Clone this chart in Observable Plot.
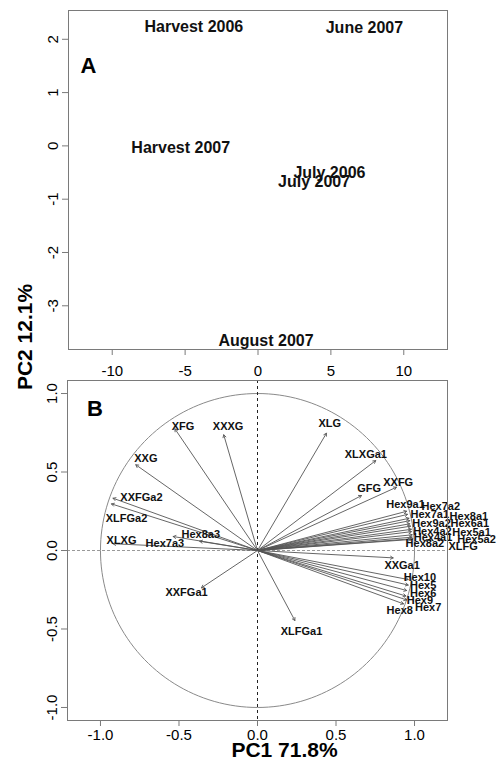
<!DOCTYPE html>
<html>
<head>
<meta charset="utf-8">
<script src="https://cdn.jsdelivr.net/npm/d3@7"></script>
<script src="https://cdn.jsdelivr.net/npm/@observablehq/plot@0.6"></script>
<style>
  html, body { margin: 0; padding: 0; background: #fff; }
  #chart { position: relative; width: 497px; height: 762px; font-family: "Liberation Sans", Arial, Helvetica, sans-serif; }
  #chart > svg { position: absolute; left: 0; }
</style>
</head>
<body>
<div id="chart"></div>
<script>
// Panel A: sample scores on the first two principal components
const sampleNames = ["Harvest 2006", "June 2007", "Harvest 2007", "July 2006", "July 2007", "August 2007"];
const samplePC1 = [-4.4, 7.3, -5.3, 4.9, 3.85, 0.55];
const samplePC2 = [2.24, 2.22, -0.03, -0.5, -0.67, -3.65];

// Panel B: variable loadings (arrow tips) and where each name is written
const variableNames = [
  "XFG", "XXXG", "XLG", "XLXGa1", "XXFG", "GFG", "XXG", "XXFGa2", "XLFGa2", "XLXG", "Hex8a3", "Hex7a3",
  "XXFGa1", "XLFGa1", "XXGa1",
  "Hex9a1", "Hex7a2", "Hex7a1", "Hex8a1", "Hex9a2", "Hex6a1", "Hex4a2", "Hex5a1", "Hex4a1", "Hex5a2", "Hex8a2", "XLFG",
  "Hex10", "Hex5", "Hex6", "Hex9", "Hex7", "Hex8"
];
const loadingPC1 = [
  -0.526, -0.215, 0.439, 0.753, 0.885, 0.662, -0.775, -0.92, -0.93, -0.92, -0.537, -0.368,
  -0.357, 0.238, 0.864,
  0.95, 0.955, 0.965, 0.97, 0.97, 0.975, 0.98, 0.98, 0.985, 0.985, 0.975, 0.99,
  0.96, 0.96, 0.95, 0.945, 0.95, 0.93
];
const loadingPC2 = [
  0.775, 0.737, 0.747, 0.573, 0.403, 0.35, 0.546, 0.333, 0.297, 0.043, 0.089, 0.059,
  -0.238, -0.446, -0.047,
  0.25, 0.23, 0.205, 0.19, 0.17, 0.155, 0.135, 0.12, 0.1, 0.085, 0.07, 0.075,
  -0.185, -0.22, -0.255, -0.29, -0.315, -0.34
];
const labelPC1 = [
  -0.474, -0.187, 0.46, 0.69, 0.896, 0.711, -0.711, -0.739, -0.834, -0.866, -0.361, -0.59,
  -0.452, 0.28, 0.921,
  0.943, 1.167, 1.097, 1.346, 1.108, 1.352, 1.114, 1.363, 1.118, 1.395, 1.066, 1.31,
  1.034, 1.055, 1.055, 1.034, 1.087, 0.906
];
const labelPC2 = [
  0.79, 0.79, 0.807, 0.61, 0.435, 0.393, 0.584, 0.34, 0.206, 0.064, 0.102, 0.043,
  -0.27, -0.514, -0.096,
  0.293, 0.28, 0.227, 0.219, 0.174, 0.17, 0.123, 0.117, 0.081, 0.07, 0.043, 0.025,
  -0.174, -0.223, -0.276, -0.318, -0.361, -0.382
];

// Axis ticks
const scoreTicksX = [-10, -5, 0, 5, 10];
const scoreTicksY = [-3, -2, -1, 0, 1, 2];
const loadingTicks = [-1, -0.5, 0, 0.5, 1];

const FONT = "Liberation Sans, Arial, Helvetica, sans-serif";
const samples = sampleNames.map((name, i) => ({name, pc1: samplePC1[i], pc2: samplePC2[i]}));
const variables = variableNames.map((name, i) => ({
  name, x: loadingPC1[i], y: loadingPC2[i], lx: labelPC1[i], ly: labelPC2[i]
}));
const frameGray = "#7a7a7a";
const svgStyle = {background: "transparent", overflow: "visible", fontFamily: FONT, color: "#000"};

const panelA = Plot.plot({
  width: 497,
  height: 380,
  marginTop: 10,
  marginBottom: 31,
  marginLeft: 68,
  marginRight: 50,
  style: svgStyle,
  x: {domain: [-13, 13]},
  y: {domain: [-3.82, 2.54]},
  marks: [
    Plot.axisX(scoreTicksX, {tickSize: 6, tickPadding: 10, fontSize: 15, stroke: frameGray, label: null, tickFormat: d => String(d)}),
    Plot.axisY(scoreTicksY, {tickSize: 6, tickPadding: 5, tickRotate: -90, fontSize: 15, stroke: frameGray, label: null, tickFormat: d => String(d)}),
    Plot.frame({stroke: frameGray}),
    Plot.text(samples, {x: "pc1", y: "pc2", text: "name", fontSize: 16, fontWeight: "bold", fill: "#111", textAnchor: "middle", lineAnchor: "middle"}),
    Plot.text(["A"], {frameAnchor: "top-left", dx: 20, dy: 55, fontSize: 22, fontWeight: "bold", textAnchor: "middle", lineAnchor: "middle"}),
    Plot.text(["PC2 12.1%"], {frameAnchor: "left", dx: -43, dy: 157, rotate: -90, fontSize: 21, fontWeight: "bold", textAnchor: "middle", lineAnchor: "middle"})
  ]
});
panelA.style.top = "0px";

const panelB = Plot.plot({
  width: 497,
  height: 392,
  marginTop: 10,
  marginBottom: 42,
  marginLeft: 67,
  marginRight: 50,
  style: svgStyle,
  x: {domain: [-1.21, 1.21]},
  y: {domain: [-1.083, 1.083]},
  marks: [
    Plot.axisX(loadingTicks, {tickSize: 6, tickPadding: 3, fontSize: 15, stroke: frameGray, label: null, tickFormat: d => d.toFixed(1)}),
    Plot.axisY(loadingTicks, {tickSize: 6, tickPadding: 5, tickRotate: -90, fontSize: 15, stroke: frameGray, label: null, tickFormat: d => d.toFixed(1)}),
    // unit correlation circle
    Plot.line(d3.range(0, 361, 2), {x: a => Math.cos(a * Math.PI / 180), y: a => Math.sin(a * Math.PI / 180), stroke: "#8a8a8a", strokeWidth: 1}),
    Plot.ruleY([0], {stroke: "#999", strokeDasharray: "3,2", strokeWidth: 1.2}),
    Plot.ruleX([0], {stroke: "#222", strokeDasharray: "3,3", strokeWidth: 1}),
    Plot.arrow(variables, {x1: () => 0, y1: () => 0, x2: "x", y2: "y", stroke: "#555", strokeWidth: 0.9, headLength: 5}),
    Plot.text(variables, {x: "lx", y: "ly", text: "name", fontSize: 11, fontWeight: "bold", fill: "#111", textAnchor: "middle", lineAnchor: "middle"}),
    Plot.frame({stroke: frameGray}),
    Plot.text(["B"], {frameAnchor: "top-left", dx: 27.5, dy: 28, fontSize: 22, fontWeight: "bold", textAnchor: "middle", lineAnchor: "middle"}),
    Plot.text(["PC1 71.8%"], {frameAnchor: "bottom", dx: 27, dy: 30, fontSize: 21, fontWeight: "bold", textAnchor: "middle", lineAnchor: "middle"})
  ]
});
panelB.style.top = "370px";

const chart = document.getElementById("chart");
chart.appendChild(panelA);
chart.appendChild(panelB);
</script>
</body>
</html>
